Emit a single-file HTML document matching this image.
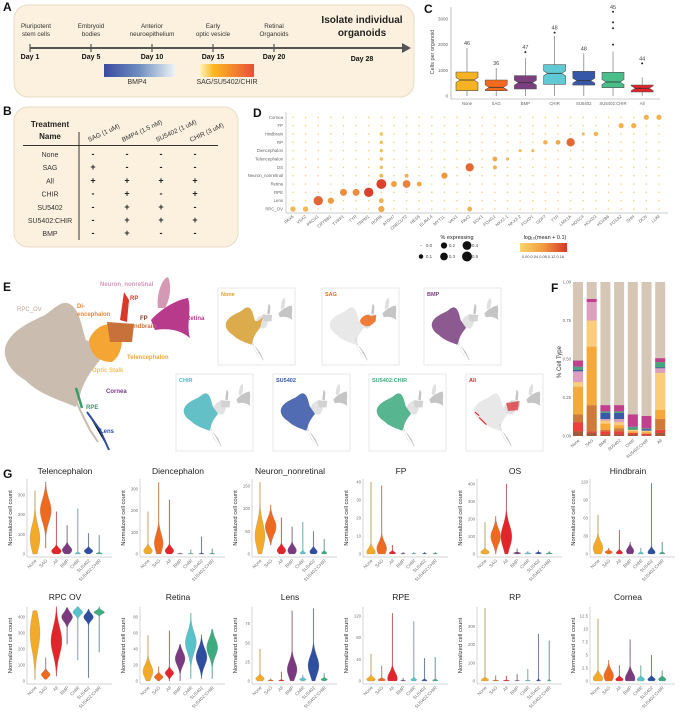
<!DOCTYPE html>
<html><head><meta charset="utf-8"><style>
html,body{margin:0;padding:0;background:#fff;}
svg{display:block;font-family:"Liberation Sans",Arial,sans-serif;}
</style></head><body>
<svg id="fig" width="691" height="720" viewBox="0 0 691 720" xmlns="http://www.w3.org/2000/svg">
<defs>
<linearGradient id="gBmp" x1="0" x2="1"><stop offset="0" stop-color="#3b4aa0"/><stop offset="0.5" stop-color="#6f8fc0"/><stop offset="1" stop-color="#eef4f6"/></linearGradient>
<linearGradient id="gSag" x1="0" x2="1"><stop offset="0" stop-color="#fff3c0"/><stop offset="0.25" stop-color="#fbb820"/><stop offset="0.7" stop-color="#f07a30"/><stop offset="1" stop-color="#e84e3a"/></linearGradient>
<linearGradient id="gCol" x1="0" x2="1"><stop offset="0" stop-color="#f8d66a"/><stop offset="0.5" stop-color="#f09a40"/><stop offset="1" stop-color="#d8352a"/></linearGradient>
<g id="umap">
<path d="M67,303 C80,306 82,330 86,340 C95,345 100,335 108,330 L100,360 C92,370 84,380 80,395 L76,407 C60,400 40,395 25,380 C8,370 2,355 6,345 C12,330 30,322 45,315 C55,308 60,302 67,303Z" fill="#cbbcb0"/>
<path d="M76,400 L80,410 L90,430 L98,442" stroke="#cbbcb0" stroke-width="2" fill="none"/>
<path d="M89,340 C95,325 110,320 120,328 C124,340 122,355 112,362 C100,362 90,356 89,340Z" fill="#f4a534"/>
<path d="M107,322 L134,324 L132,342 L110,342Z" fill="#c9713a"/>
<path d="M120,320 L124,292 L129,300 L127,322Z" fill="#d83a2a"/>
<path d="M158,308 C156,295 162,278 168,277 C172,285 170,300 165,308Z" fill="#d49ab4"/>
<path d="M151,320 C160,310 175,300 188,298 C192,310 186,325 190,338 C180,330 170,328 155,330Z" fill="#b83a8a"/>
<path d="M76,388 L82,408" stroke="#3a9a6a" stroke-width="2.5"/>
<path d="M87,412 L100,430 L109,450" stroke="#2f4fa0" stroke-width="2"/>
</g>
</defs>
</svg>
<script>
const svgNS="http://www.w3.org/2000/svg";
const fig=document.getElementById('fig');
function mk(tag,attrs,parent,text){const e=document.createElementNS(svgNS,tag);for(const k in attrs)e.setAttribute(k,attrs[k]);if(text!==undefined)e.textContent=text;(parent||fig).appendChild(e);return e;}
function grp(name){const g=mk('g',{});return g;}
function label(t,x,y,g,size,bold){const e=mk('text',{x:x,y:y,'font-size':size||12,'font-weight':bold?'bold':'normal',fill:'#111'},g,t);return e;}

/* ================= Panel A ================= */
const gA=grp('panel-a');
mk('rect',{x:14,y:5,width:400,height:92,rx:14,fill:'#fcf1de',stroke:'#e8dcc6'},gA);
label('A',3,11,gA,12,true);
mk('line',{x1:30,y1:48,x2:403,y2:48,stroke:'#555','stroke-width':2},gA);
mk('path',{d:'M402,43 L411,48 L402,53Z',fill:'#555'},gA);
const tlX=[30,91,152,213,274,362];
const tlDays=['Day 1','Day 5','Day 10','Day 15','Day 20','Day 28'];
const tlTop=[['Pluripotent','stem cells'],['Embryoid','bodies'],['Anterior','neuroepithelium'],['Early','optic vesicle'],['Retinal','Organoids']];
tlX.forEach((x,i)=>{
 if(i<5) mk('line',{x1:x,y1:44,x2:x,y2:52,stroke:'#555','stroke-width':1.2},gA);
 const d=mk('text',{x:x,y:i==5?61:59,'font-size':7,'font-weight':'bold','text-anchor':'middle',fill:'#111'},gA,tlDays[i]);
 
 if(i<5){tlTop[i].forEach((t,j)=>mk('text',{x:x+(i==0?6:0),y:28+j*8,'font-size':6.3,'text-anchor':'middle',fill:'#333'},gA,t));}
});
mk('text',{x:362,y:23,'font-size':10,'font-weight':'bold','text-anchor':'middle',fill:'#222'},gA,'Isolate individual');
mk('text',{x:362,y:36,'font-size':10,'font-weight':'bold','text-anchor':'middle',fill:'#222'},gA,'organoids');
mk('rect',{x:104,y:64,width:71,height:13,fill:'url(#gBmp)'},gA);
mk('text',{x:137,y:84,'font-size':7,'text-anchor':'middle',fill:'#333'},gA,'BMP4');
mk('rect',{x:200,y:64,width:54,height:13,fill:'url(#gSag)'},gA);
mk('text',{x:227,y:84,'font-size':7,'text-anchor':'middle',fill:'#333'},gA,'SAG/SU5402/CHIR');

/* ================= Panel B ================= */
const gB=grp('panel-b');
mk('rect',{x:14,y:107,width:224,height:140,rx:14,fill:'#fcf1de',stroke:'#e8dcc6'},gB);
label('B',3,115,gB,12,true);
mk('text',{x:50,y:127,'font-size':8,'font-weight':'bold','text-anchor':'middle',fill:'#222'},gB,'Treatment');
mk('text',{x:50,y:139,'font-size':8,'font-weight':'bold','text-anchor':'middle',fill:'#222'},gB,'Name');
mk('line',{x1:23,y1:145.5,x2:218,y2:145.5,stroke:'#333','stroke-width':1},gB);
mk('line',{x1:79,y1:132,x2:79,y2:240,stroke:'#333','stroke-width':1},gB);
const tNames=['None','SAG','All','CHIR','SU5402','SU5402:CHIR','BMP'];
const tHead=['SAG (1 uM)','BMP4 (1.5 nM)','SU5402 (1 uM)','CHIR (3 uM)'];
const tCells=['----','+---','++++','-+-+','-++-','-+++','-+--'];
const colX=[93,127,161,195];
tHead.forEach((h,j)=>mk('text',{x:colX[j]-4,y:142,'font-size':6.5,fill:'#333',transform:`rotate(-25 ${colX[j]-4} 142)`},gB,h));
tNames.forEach((n,i)=>{const y=157+i*13.2;
 mk('text',{x:50,y:y,'font-size':7,'text-anchor':'middle',fill:'#333'},gB,n);
 for(let j=0;j<4;j++) mk('text',{x:colX[j],y:y,'font-size':9,'font-weight':'bold','text-anchor':'middle',fill:'#222'},gB,tCells[i][j]);
});

/* ================= Panel C ================= */
const cGroups=['None','SAG','BMP','CHIR','SU5402','SU5402:CHIR','All'];
const cQ1=[206,206,273,455,428,325,156];
const cMed=[623,338,519,883,597,545,300];
const cQ3=[935,623,792,1220,960,922,428];
const cWhiskHi=[1870,1090,1480,2340,1660,1727,727];
const cOutliers=[[],[],[1710],[2470],[],[2000,2640,2870,3280],[1270]];
const cN=[46,36,47,48,48,45,44];
const cTicks=[0,1000,2000,3000];
const cColors=['#f5b324','#f26a1b','#7b3f80','#5fcad3','#3656a8','#4bbf8a','#e0252b'];
const gC=grp('panel-c');
label('C',424,13,gC,12,true);
const cy=v=>96-v*0.02567, cx=i=>467+29.2*i;
mk('line',{x1:451,y1:7,x2:451,y2:99,stroke:'#999','stroke-width':0.6},gC);
mk('line',{x1:451,y1:99,x2:660,y2:99,stroke:'#999','stroke-width':0.6},gC);
cTicks.forEach(t=>{mk('text',{x:448,y:cy(t)+1.5,'font-size':4.5,'text-anchor':'end',fill:'#666'},gC,t);});
const yt=mk('text',{x:0,y:0,'font-size':5.5,'text-anchor':'middle',fill:'#444',transform:'translate(434,52) rotate(-90)'},gC,'Cells per organoid');

cGroups.forEach((g,i)=>{const x=cx(i),w=11,n=4;
 const b=mk('g',{},gC);
 
 
 mk('line',{x1:x,y1:cy(0),x2:x,y2:cy(cWhiskHi[i]),stroke:'#777','stroke-width':0.7},b);
 const q1=cy(cQ1[i]),q3=cy(cQ3[i]),m=cy(cMed[i]);
 mk('path',{d:`M${x-w},${q1} L${x+w},${q1} L${x+w},${m+2.5} L${x+w-n},${m} L${x+w},${m-2.5} L${x+w},${q3} L${x-w},${q3} L${x-w},${m-2.5} L${x-w+n},${m} L${x-w},${m+2.5}Z`,fill:cColors[i],stroke:'#555','stroke-width':0.6},b);
 mk('line',{x1:x-w+n,y1:m,x2:x+w-n,y2:m,stroke:'#333','stroke-width':0.8},b);
 cOutliers[i].forEach(o=>mk('circle',{cx:x,cy:cy(o),r:1,fill:'#222'},b));
 const top=Math.max(cWhiskHi[i],...cOutliers[i],0);
 mk('text',{x:x,y:cy(top)-3,'font-size':5.5,'text-anchor':'middle',fill:'#444'},b,cN[i]);
 mk('text',{x:x,y:105,'font-size':4.3,'text-anchor':'middle',fill:'#666'},b,g);
});

/* ================= Panel D ================= */
const dRows=['Cornea','FP','Hindbrain','RP','Diencephalon','Telencephalon','OS','Neuron_nonretinal','Retina','RPE','Lens','RPC_OV'];
const dGenes=['PAX6','VSX2','PROX1','CRYBB1','TYRP1','TYR','TRPM1','RORB','ATOH7','ONECUT2','HES6','ELAVL4','MYT1L','VAX1','PAX2','SOX1','FOXG1','NKX2-1','NKX2-2','FOXD1','GDF7','TTR','LMX1A','HOXC4','HOXD3','HOXB6','FOXA2','SHH','DCN','LUM'];
const dDots=[[11,0,.15,.04],[11,1,.15,.04],[10,2,.45,.12],[10,3,.2,.08],[9,4,.25,.09],[9,5,.25,.09],[9,6,.45,.15],[8,7,.5,.15],[11,7,.2,.06],[10,7,.12,.05],[7,7,.08,.04],[6,7,.06,.03],[5,7,.06,.03],[4,7,.06,.03],[3,7,.06,.03],[2,7,.06,.03],[8,8,.18,.07],[8,9,.3,.1],[7,9,.08,.05],[8,10,.12,.06],[7,12,.2,.08],[6,14,.35,.12],[11,14,.12,.05],[6,16,.08,.05],[5,16,.12,.06],[5,17,.05,.04],[4,18,.05,.04],[4,19,.05,.04],[3,20,.1,.05],[3,21,.12,.06],[3,22,.35,.12],[2,23,.05,.04],[2,24,.1,.05],[1,26,.14,.05],[1,27,.14,.05],[0,28,.14,.05],[0,29,.14,.05]];
const gD=grp('panel-d');
label('D',253,117,gD,12,true);
const dx=j=>293+12.62*j, dy=i=>117.3+8.34*i;
const dR=p=>Math.sqrt(p)*7;
function dCol(v){const t=Math.min(1,v/0.16);const a=[248,214,106],b=[240,154,64],c=[216,53,42];let u,p,q;if(t<.5){u=t*2;p=a;q=b}else{u=(t-.5)*2;p=b;q=c}return `rgb(${p.map((s,k)=>Math.round(s+(q[k]-s)*u)).join(',')})`;}
mk('line',{x1:286,y1:112,x2:286,y2:213,stroke:'#999','stroke-width':0.5},gD);
mk('line',{x1:286,y1:213,x2:668,y2:213,stroke:'#999','stroke-width':0.5},gD);
dRows.forEach((r,i)=>mk('text',{x:283,y:dy(i)+1.5,'font-size':4.3,'text-anchor':'end',fill:'#666'},gD,r));
dGenes.forEach((g,j)=>mk('text',{x:dx(j)+1,y:217,'font-size':4.3,'text-anchor':'end',fill:'#666',transform:`rotate(-40 ${dx(j)+1} 217)`},gD,g));
const dMap={};dDots.forEach(d=>dMap[d[0]+'_'+d[1]]=d);
dRows.forEach((r,i)=>dGenes.forEach((g,j)=>{if(!dMap[i+'_'+j])mk('circle',{cx:dx(j),cy:dy(i),r:0.8,fill:'#f6c75a','fill-opacity':0.8},gD);}));
dDots.forEach(d=>{const c=mk('circle',{cx:dx(d[1]),cy:dy(d[0]),r:dR(d[2]),fill:dCol(d[3])},gD);});
mk('text',{x:457,y:239,'font-size':5.5,'text-anchor':'middle',fill:'#222'},gD,'% expressing');
const legP=[0,0.2,0.4,0.1,0.3,0.5];
legP.forEach((p,k)=>{const x=k<3?[426,449,472][k]:[426,449,472][k-3],y=k<3?247:258;
 mk('circle',{cx:x-5,cy:y-1.5,r:Math.max(0.4,dR(p)),fill:'#111'},gD);
 mk('text',{x:x,y:y,'font-size':4.3,fill:'#444'},gD,p.toFixed(1));});
mk('text',{x:545,y:239,'font-size':5.5,'text-anchor':'middle',fill:'#222'},gD,'log₁₀(mean + 0.1)');
mk('rect',{x:520,y:243,width:47,height:9,fill:'url(#gCol)'},gD);
mk('text',{x:543,y:258,'font-size':3.9,'text-anchor':'middle',fill:'#444'},gD,'0.00 0.04 0.08 0.12 0.16');

/* ================= Panel E ================= */
const gE=grp('panel-e');
label('E',3,291,gE,12,true);
mk('use',{href:'#umap'},gE);
const eLab=[['Neuron_nonretinal',100,286,'#d49ab4'],['RP',130,300,'#d83a2a'],['Di-',77,308,'#e58a3a'],['encephalon',77,316,'#e58a3a'],['FP',140,320,'#8a3a2a'],['Hindbrain',128,328,'#c9713a'],['Retina',186,320,'#b83a8a'],['RPC_OV',17,311,'#b8a898'],['Telencephalon',127,359,'#f4a534'],['Optic Stalk',92,372,'#f2c060'],['Cornea',106,393,'#7a3a8a'],['RPE',86,409,'#3a9a6a'],['Lens',100,433,'#2f4fa0']];
eLab.forEach(l=>{const t=mk('text',{x:l[1],y:l[2],'font-size':6,'font-weight':l[0]=='RPC_OV'?'normal':'bold',fill:l[3]},gE,l[0]);});
const eMini=['None','SAG','BMP','CHIR','SU5402','SU5402:CHIR','All'];
const eCol=['#d9a030','#f26a1b','#7b3f80','#4ab8bf','#3656a8','#3dab7f','#e0252b'];
const eBox=[[218,288],[322,288],[424,288],[176,374],[273,374],[369,374],[466,374]];
eMini.forEach((n,i)=>{const[bx,by]=eBox[i];const g=mk('g',{},gE);
 
 
 mk('rect',{x:bx,y:by,width:77,height:77,fill:'#fff',stroke:'#ddd','stroke-width':0.7},g);
 const s=0.36,tx=bx+6,ty=by+10-277*s;
 const u=mk('g',{transform:`translate(${tx},${ty}) scale(${s})`},g);
 mk('use',{href:'#umap',opacity:0.35,filter:'grayscale(1)'},u);
 const hl={None:'M67,303 C80,306 82,330 86,340 C95,345 100,335 108,330 L100,360 C92,370 84,380 80,395 L76,407 C60,400 40,395 25,380 C8,370 2,355 6,345 C12,330 30,322 45,315 C55,308 60,302 67,303Z',
  SAG:'M89,340 C95,325 110,320 120,328 L134,324 L132,342 C124,350 115,358 105,355 C95,352 90,348 89,340Z',
  All:'M95,330 L130,325 L128,350 L100,352Z'}[n]||'M67,303 C80,306 82,330 86,340 L100,360 C92,370 84,380 80,395 L76,407 C60,400 40,395 25,380 C8,370 2,355 6,345 C12,330 30,322 45,315 C55,308 60,302 67,303Z';
 mk('path',{d:hl,fill:eCol[i],'fill-opacity':n=='All'?0.7:0.85},u);
 if(n=='All') mk('path',{d:'M20,370 L40,390 L30,380Z M8,355 L20,365',stroke:eCol[i],'stroke-width':3,fill:'none'},u);
 mk('text',{x:bx+3,y:by+8,'font-size':5.5,'font-weight':'bold',fill:eCol[i]},g,n);
});

/* ================= Panel F ================= */
const fGroups=['None','SAG','BMP','SU5402','CHIR','SU5402:CHIR','All'];
const fTypes=['Diencephalon','OS','Hindbrain','Telencephalon','Optic Stalk','Neuron_nonretinal','Lens','RPE','Retina'];
const fTypeCol=['#a05a3a','#e8403a','#d07a3a','#f6a838','#fbcc7a','#dca0be','#3a5aa8','#4aa37a','#c0408e'];
const fDien=[0.03,0.02,0.01,0.01,0.01,0.005,0.02];
const fOS=[0.06,0.01,0.02,0.02,0.01,0.01,0.02];
const fHind=[0.05,0.17,0.01,0.02,0,0,0.07];
const fTele=[0.18,0.38,0.04,0.02,0.01,0.01,0.06];
const fStalk=[0.03,0.17,0.02,0.02,0.01,0.01,0.24];
const fNN=[0.07,0.12,0.01,0.02,0,0,0.03];
const fLens=[0.01,0,0.04,0.04,0,0.01,0.005];
const fRPE=[0.02,0,0.01,0.01,0.02,0.005,0.035];
const fRet=[0.04,0.02,0.04,0.04,0.08,0.08,0.025];
const fSeries=[fDien,fOS,fHind,fTele,fStalk,fNN,fLens,fRPE,fRet];
const fTicks=[0,0.25,0.5,0.75,1];
const gF=grp('panel-f');
label('F',551,292,gF,12,true);
const fy=v=>436-v*154, fx=i=>578+13.7*i;
fTicks.forEach(t=>mk('text',{x:571,y:fy(t)+1.5,'font-size':4.3,'text-anchor':'end',fill:'#666'},gF,t.toFixed(2)));
mk('text',{x:0,y:0,'font-size':6,'text-anchor':'middle',fill:'#333',transform:'translate(561,362) rotate(-90)'},gF,'% Cell Type');
fGroups.forEach((g,i)=>{const x=fx(i)-5;
 const bg=mk('rect',{x:x,y:fy(1),width:10,height:154,fill:'#d6c6b6'},gF);
 
 let acc=0;
 fSeries.forEach((s,k)=>{const v=s[i];if(v<=0)return;const r=mk('rect',{x:x,y:fy(acc+v),width:10,height:v*154,fill:fTypeCol[k]},gF);acc+=v;});
 mk('text',{x:fx(i)+2,y:441,'font-size':4.3,'text-anchor':'end',fill:'#666',transform:`rotate(-40 ${fx(i)+2} 441)`},gF,g);
});

/* ================= Panel G ================= */
const gG=grp('panel-g');
label('G',3,478,gG,12,true);
const vGroups=['None','SAG','All','BMP','CHIR','SU5402','SU5402:CHIR'];
const vCol=['#f2aa28','#ee6a1e','#e3242b','#7a3a7f','#57c2c9','#2e4fa0','#3dab7f'];
const vPanels=['Telencephalon','Diencephalon','Neuron_nonretinal','FP','OS','Hindbrain','RPC_OV','Retina','Lens','RPE','RP','Cornea'];
const vYmax=[365,332,159,40,411,120,444,89,93,131,390,13.7];
const vTicks=[[0,100,200,300],[0,100,200,300],[0,50,100,150],[0,10,20,30,40],[0,100,200,300,400],[0,30,60,90,120],[0,100,200,300,400],[0,20,40,60,80],[0,25,50,75],[0,40,80,120],[0,100,200,300],[0,2.5,5,7.5,10,12.5]];
/* per violin: [min, mode, max, relWidth, spread] */
const vData=[
[[0,80,320,.9,90],[30,220,365,1,80],[0,15,215,.9,20],[0,20,145,.9,25],[0,2,230,.6,5],[0,15,105,.8,15],[0,2,95,.6,5]],
[[0,15,195,.8,20],[0,50,330,.8,60],[0,15,250,.8,20],[0,1,5,.5,2],[0,1,20,.5,3],[0,1,80,.5,3],[0,1,25,.5,3]],
[[0,40,158,.9,40],[20,60,108,1,25],[0,8,80,.8,10],[0,8,60,.8,12],[0,2,70,.5,4],[0,5,50,.7,8],[0,2,33,.5,4]],
[[0,1,40,.8,3],[0,3,38,.9,5],[0,.5,5,.6,1],[0,.2,1,.4,.3],[0,.2,1,.4,.3],[0,.2,1,.4,.3],[0,.2,1,.4,.3]],
[[0,10,180,.8,15],[0,100,215,.9,60],[0,100,400,1,90],[0,5,30,.7,5],[0,3,15,.6,4],[0,5,20,.6,5],[0,3,15,.6,4]],
[[0,10,65,.9,15],[0,3,10,.7,3],[0,2,40,.6,4],[0,5,20,.7,8],[0,1,10,.5,2],[0,3,118,.7,6],[0,1,20,.5,2]],
[[10,300,440,.9,150],[10,40,145,.8,25],[30,250,465,1,120],[230,400,460,1,40],[130,430,465,.9,25],[20,400,450,.9,30],[180,430,465,1,15]],
[[0,12,57,.9,12],[0,5,18,.8,4],[0,10,63,.8,5],[0,28,46,.9,12],[3,48,85,1,18],[3,30,58,1,15],[3,42,65,1,15]],
[[0,3,42,.8,4],[0,.5,3,.5,1],[0,.5,12,.5,1],[0,15,92,.9,15],[0,2,8,.6,2],[0,20,95,1,18],[0,2,10,.6,2]],
[[0,3,50,.8,5],[0,2,28,.7,3],[0,5,125,.9,15],[0,.5,5,.5,1],[0,2,110,.6,3],[0,1,42,.5,2],[0,1,44,.5,2]],
[[0,5,400,.8,10],[0,2,30,.6,3],[0,2,28,.6,3],[0,1,38,.5,2],[0,2,65,.5,3],[0,2,258,.6,4],[0,2,222,.6,3]],
[[0,.5,12,.9,1],[0,1,4,.9,1.5],[0,.3,3,.7,.5],[0,.5,8,.9,1.5],[0,.3,3,.7,.5],[0,.3,5,.7,.5],[0,.3,2,.7,.5]]];
const vOrigin=[9,122,234,345,459,572];
vPanels.forEach((p,pi)=>{
 const row=pi<6?0:1, ox=vOrigin[pi%6];
 const y0=row?681:554, H=row?71:72, ttl=row?600:474;
 const yv=v=>y0-v/vYmax[pi]*H;
 const g=mk('g',{},gG);
 
 
 mk('text',{x:ox+56,y:ttl,'font-size':8.5,'text-anchor':'middle',fill:'#222'},g,p.replace('_',row?' ':'_').replace('RPC OV','RPC  OV'));
 mk('text',{x:0,y:0,'font-size':5.8,'text-anchor':'middle',fill:'#333',transform:`translate(${ox+3},${y0-H/2}) rotate(-90)`},g,'Normalized cell count');
 mk('line',{x1:ox+18,y1:y0-H-3,x2:ox+18,y2:y0+3,stroke:'#aaa','stroke-width':0.5},g);
 mk('line',{x1:ox+18,y1:y0+3,x2:ox+103,y2:y0+3,stroke:'#aaa','stroke-width':0.5},g);
 vTicks[pi].forEach(t=>mk('text',{x:ox+16,y:yv(t)+1.5,'font-size':4.3,'text-anchor':'end',fill:'#777'},g,t));
 vData[pi].forEach((d,gi)=>{
  const cx=ox+26+10.7*gi;const [mn,mo,mx,w,sp]=d;const N=40;const L=[],R=[];
  for(let k=0;k<=N;k++){const v=mn+(mx-mn)*k/N;const hw=Math.max(0.35,5.5*w*Math.exp(-Math.pow((v-mo)/sp,2)));L.push(`${(cx-hw).toFixed(2)},${yv(v).toFixed(2)}`);R.unshift(`${(cx+hw).toFixed(2)},${yv(v).toFixed(2)}`);}
  const v=mk('path',{d:'M'+L.join(' L')+' L'+R.join(' L')+'Z',fill:vCol[gi],stroke:'#888','stroke-width':0.25},g);
  
  mk('text',{x:cx+2,y:y0+7,'font-size':4.6,'text-anchor':'end',fill:'#777',transform:`rotate(-45 ${cx+2} ${y0+7})`},g,vGroups[gi]);
 });
});
</script>
</body></html>
